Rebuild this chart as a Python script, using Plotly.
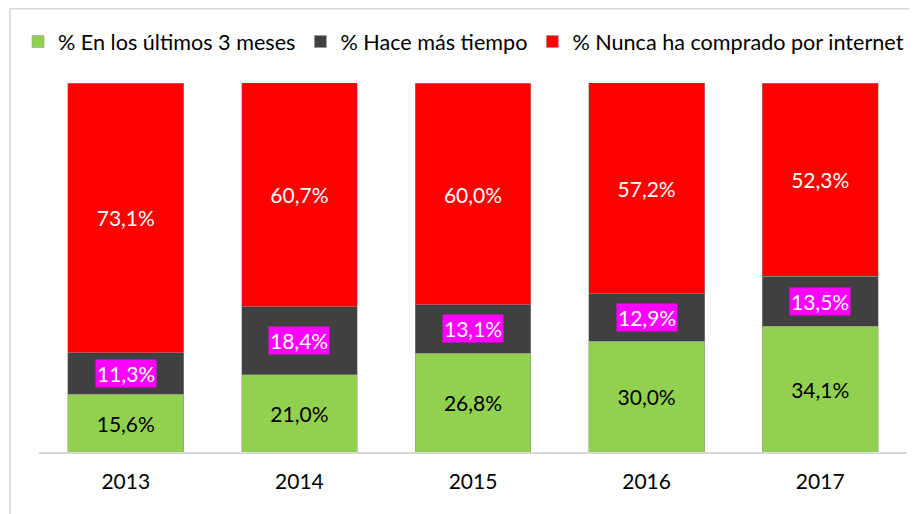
import plotly.graph_objects as go

years = ["2013", "2014", "2015", "2016", "2017"]
ultimos_3_meses = [15.6, 21.0, 26.8, 30.0, 34.1]
hace_mas_tiempo = [11.3, 18.4, 13.1, 12.9, 13.5]
nunca = [73.1, 60.7, 60.0, 57.2, 52.3]

series_names = ["% En los últimos 3 meses", "% Hace más tiempo", "% Nunca ha comprado por internet"]
colors = ["#92D050", "#404040", "#FF0000"]

FONT = "Lato"
FS = 21

fig = go.Figure()
line = dict(color="rgba(150,150,150,0.7)", width=0.75)
fig.add_trace(go.Bar(
    x=years, y=ultimos_3_meses, name=series_names[0], marker=dict(color=colors[0], line=line),
    texttemplate="%{y:.1f}%", textposition="inside", insidetextanchor="middle",
    textangle=0, constraintext="none", insidetextfont=dict(color="black", size=FS, family=FONT),
))
fig.add_trace(go.Bar(
    x=years, y=hace_mas_tiempo, name=series_names[1], marker=dict(color=colors[1], line=line),
))
fig.add_trace(go.Bar(
    x=years, y=nunca, name=series_names[2], marker=dict(color=colors[2], line=line),
    texttemplate="%{y:.1f}%", textposition="inside", insidetextanchor="middle",
    textangle=0, constraintext="none", insidetextfont=dict(color="white", size=FS, family=FONT),
))

for i, (g, h) in enumerate(zip(ultimos_3_meses, hace_mas_tiempo)):
    fig.add_annotation(
        x=i, y=g + h / 2, text=f"{h:.1f}%".replace(".", ","), showarrow=False,
        bgcolor="#FF00FF", font=dict(color="white", size=FS, family=FONT), borderpad=1,
    )

# page is shown with an 8px body offset, so the figure is laid out 8px up/left
l, r, t, b = 31, 18, 75, 70
W, H = 917, 514
pw, ph = W - l - r, H - t - b
xl = (2 - l) / pw
yt = (ph + t - 0.75) / ph
fig.add_shape(type="line", xref="paper", yref="paper", x0=xl, x1=xl, y0=-b / ph - 0.05, y1=yt,
              line=dict(color="#d9d9d9", width=1.5))
fig.add_shape(type="line", xref="paper", yref="paper", x0=xl, x1=1 + r / pw + 0.05, y0=yt, y1=yt,
              line=dict(color="#d9d9d9", width=1.5))

fig.update_layout(
    width=W, height=H,
    margin=dict(l=l, r=r, t=t, b=b, autoexpand=False),
    barmode="stack", bargap=0.333,
    separators=",.",
    plot_bgcolor="white", paper_bgcolor="white",
    font=dict(family=FONT, size=FS, color="black"),
    showlegend=True,
    legend=dict(orientation="h", x=(10 - l) / pw, xanchor="left", y=(ph + t - 34) / ph, yanchor="middle",
                font=dict(size=21.6, family=FONT), traceorder="normal", itemwidth=30, tracegroupgap=0),
    xaxis=dict(type="category", range=[-0.5, len(years) - 0.5], autorange=False,
               showline=True, linecolor="#d9d9d9", linewidth=1.5, ticks="", showgrid=False,
               ticklabelstandoff=10, tickfont=dict(size=FS, family=FONT)),
    yaxis=dict(range=[0, 100], autorange=False, visible=False, showgrid=False),
)

fig.write_html("out.html")
